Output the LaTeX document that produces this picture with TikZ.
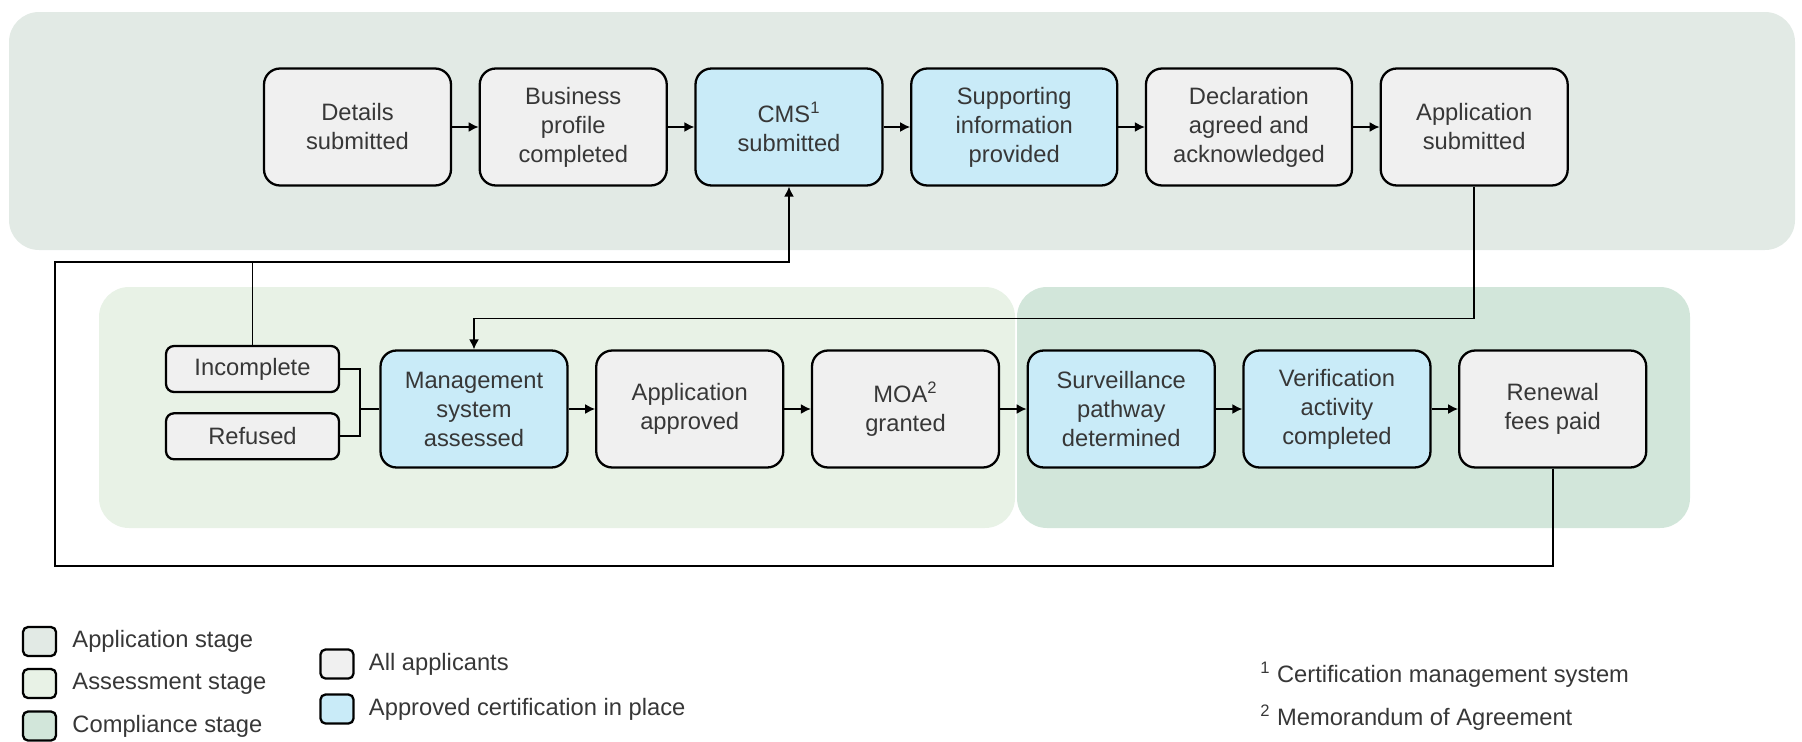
\documentclass[tikz,border=0pt]{standalone}
\usepackage{fontspec}
\setmainfont{Liberation Sans}
\usetikzlibrary{positioning,arrows.meta}
\definecolor{AppStage}{RGB}{226,234,229}
\definecolor{AssessStage}{RGB}{232,242,230}
\definecolor{CompStage}{RGB}{210,230,218}
\definecolor{AllGrey}{RGB}{240,240,240}
\definecolor{CertBlue}{RGB}{201,235,248}
\definecolor{TextGrey}{RGB}{55,55,55}

\begin{document}
\begin{tikzpicture}[
    x=0.02cm, y=-0.02cm,
    stage/.style={rounded corners=0.6cm},
    box/.style={draw, line width=1.3pt, rounded corners=0.32cm, fill=AllGrey, align=center, minimum width=3.74cm, minimum height=2.34cm, text=TextGrey, font=\fontsize{13.5}{16.5}\selectfont, inner sep=2pt},
    cert/.style={box, fill=CertBlue},
    wide/.style={minimum width=4.12cm},
    small/.style={box, minimum width=3.46cm, minimum height=0.92cm, rounded corners=0.16cm},
    arrow/.style={-{Latex[length=2mm,width=2mm]}, line width=0.9pt},
    line/.style={line width=0.9pt},
    key/.style={draw, line width=1.3pt, rounded corners=0.1cm, minimum width=0.66cm, minimum height=0.58cm, inner sep=0pt},
    keytext/.style={anchor=west, inner sep=0pt, text=TextGrey, font=\fontsize{13.5}{16.5}\selectfont},
    node distance=0.53cm
]
\useasboundingbox (0,0) rectangle (1802,741);

% stage backgrounds
\fill [AppStage, stage] (9,12) rectangle (1795,250);
\fill [AssessStage, stage] (99,287) rectangle (1015,528);
\fill [CompStage, stage] (1017,287) rectangle (1690,528);

% application stage
\node (details) [box] at (357.5,127) {Details\\submitted};
\node (profile) [box, right=of details] {Business\\profile\\completed};
\node (cms) [cert, right=of profile] {CMS\textsuperscript{1}\\submitted};
\node (support) [cert, wide, right=of cms] {Supporting\\information\\provided};
\node (declare) [box, wide, right=of support] {Declaration\\agreed and\\acknowledged};
\node (appsub) [box, right=of declare] {Application\\submitted};

% assessment and compliance stages
\node (mgmt) [cert] at (474,409) {Management\\system\\assessed};
\node (approved) [box, right=of mgmt] {Application\\approved};
\node (moa) [box, right=of approved] {MOA\textsuperscript{2}\\granted};
\node (surveil) [cert, right=of moa] {Surveillance\\pathway\\determined};
\node (verify) [cert, right=of surveil] {Verification\\activity\\completed};
\node (renewal) [box, right=of verify] {Renewal\\fees paid};

\node (incomplete) [small] at (252.5,369) {Incomplete};
\node (refused) [small, below=0.38cm of incomplete] {Refused};

% connectors
\foreach \a/\b in {details/profile, profile/cms, cms/support, support/declare, declare/appsub, mgmt/approved, approved/moa, moa/surveil, surveil/verify, verify/renewal}
    \draw [arrow] (\a) -- (\b);

\coordinate (loopbl) at (55,566);
\coordinate (looptl) at (55,262);
\coordinate (join) at (360,409);
\draw [arrow] (renewal.south) |- (loopbl) -- (looptl) -| (cms.south);
\draw [line] (incomplete.north) -- (incomplete.north |- looptl);
\draw [arrow] (appsub.south) -- ++(0,132) -| (mgmt.north);
\draw [line] (incomplete.east) -| (join) |- (refused.east);
\draw [line] (join) -- (mgmt.west);

% legend
\node (keyapp) [key, fill=AppStage] at (39.5,641.5) {};
\node (keyassess) [key, fill=AssessStage] at (39.5,683.5) {};
\node (keycomp) [key, fill=CompStage] at (39.5,726) {};
\node (keyall) [key, fill=AllGrey] at (337,664) {};
\node (keycert) [key, fill=CertBlue] at (337,709) {};
\node (txtapp) [keytext, right=0.3cm of keyapp] {Application stage};
\node (txtassess) [keytext, right=0.3cm of keyassess] {Assessment stage};
\node (txtcomp) [keytext, right=0.3cm of keycomp] {Compliance stage};
\node (txtall) [keytext, right=0.28cm of keyall] {All applicants};
\node (txtcert) [keytext, right=0.28cm of keycert] {Approved certification in place};

% footnotes
\node (note1) [keytext] at (1260,675) {\textsuperscript{1} Certification management system};
\node (note2) [keytext] at (1260,718) {\textsuperscript{2} Memorandum of Agreement};
\end{tikzpicture}
\end{document}
